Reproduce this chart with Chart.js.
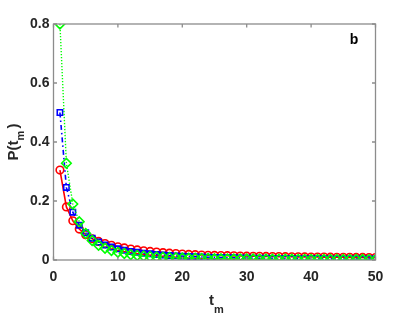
<!DOCTYPE html>
<html>
<head>
<meta charset="utf-8">
<script src="https://cdn.jsdelivr.net/npm/chart.js@4/dist/chart.umd.min.js"></script>
<style>
html,body{margin:0;padding:0;background:#fff;}
#wrap{width:415px;height:319px;}
</style>
</head>
<body>
<div id="wrap"><canvas id="c" width="415" height="319"></canvas></div>
<script>
const tValues = [1,2,3,4,5,6,7,8,9,10,11,12,13,14,15,16,17,18,19,20,21,22,23,24,25,26,27,28,29,30,31,32,33,34,35,36,37,38,39,40,41,42,43,44,45,46,47,48,49,50];
const redValues = [0.305,0.180,0.133,0.105,0.086,0.072,0.063,0.056,0.050,0.045,
0.041,0.037,0.034,0.031,0.029,0.027,0.025,0.023,0.022,0.020,
0.019,0.018,0.017,0.016,0.0155,0.015,0.0145,0.014,0.0135,0.013,
0.0127,0.0124,0.0121,0.0118,0.0115,0.0112,0.011,0.0107,0.0105,0.0102,
0.010,0.0098,0.0096,0.0094,0.0092,0.009,0.0088,0.0086,0.0085,0.0083];
const blueValues = [0.500,0.246,0.162,0.118,0.092,0.074,0.061,0.051,0.044,0.038,
0.033,0.029,0.026,0.023,0.021,0.019,0.017,0.0155,0.014,0.013,
0.012,0.011,0.0102,0.0095,0.0089,0.0083,0.0078,0.0074,0.007,0.0066,
0.0063,0.006,0.0057,0.0055,0.0052,0.005,0.0048,0.0046,0.0044,0.0043,
0.0041,0.004,0.0038,0.0037,0.0036,0.0035,0.0034,0.0033,0.0032,0.0031];
const greenValues = [0.800,0.328,0.190,0.130,0.090,0.066,0.050,0.040,0.032,0.026,
0.022,0.018,0.0155,0.0135,0.012,0.0105,0.0094,0.0085,0.0077,0.007,
0.0064,0.0059,0.0054,0.005,0.0046,0.0043,0.004,0.0038,0.0036,0.0034,
0.0032,0.003,0.0029,0.0027,0.0026,0.0025,0.0024,0.0023,0.0022,0.0021,
0.002,0.0019,0.0019,0.0018,0.0017,0.0017,0.0016,0.0016,0.0015,0.0015];
const xTicks = [0,10,20,30,40,50];
const yTicks = [0,0.2,0.4,0.6,0.8];
const xTitle = 't';
const xTitleSub = 'm';
const yTitle = 'P(t';
const yTitleSub = 'm';
const yTitleEnd = ')';
const panelLabel = 'b';

const FONT = '"Liberation Sans", Arial, Helvetica, sans-serif';
const AXIS = '#8c8c8c';
const PLOT = {left: 53.5, right: 375.5, top: 24, bottom: 260};

function pts(vals){ return tValues.map((t,i)=>({x:t,y:vals[i]})); }

const decor = {
  id: 'decor',
  afterDraw(chart){
    const ctx = chart.ctx;
    const xs = chart.scales.x, ys = chart.scales.y;
    const ca = chart.chartArea;
    ctx.save();
    ctx.strokeStyle = AXIS;
    ctx.lineWidth = 1.3;
    ctx.strokeRect(ca.left, ca.top, ca.right-ca.left, ca.bottom-ca.top);
    ctx.beginPath();
    xTicks.forEach(v=>{
      const px = xs.getPixelForValue(v);
      ctx.moveTo(px, ca.bottom); ctx.lineTo(px, ca.bottom-3.5);
      ctx.moveTo(px, ca.top); ctx.lineTo(px, ca.top+3.5);
    });
    yTicks.forEach(v=>{
      const py = ys.getPixelForValue(v);
      ctx.moveTo(ca.left, py); ctx.lineTo(ca.left+3.5, py);
      ctx.moveTo(ca.right, py); ctx.lineTo(ca.right-3.5, py);
    });
    ctx.stroke();
    ctx.fillStyle = '#262626';
    ctx.textBaseline = 'alphabetic';
    ctx.font = 'bold 15px ' + FONT;
    const cx = (ca.left+ca.right)/2;
    const wT = ctx.measureText(xTitle).width;
    ctx.font = 'bold 11px ' + FONT;
    const wS = ctx.measureText(xTitleSub).width;
    const startX = cx - (wT+wS)/2 + 2;
    ctx.font = 'bold 15px ' + FONT;
    ctx.textAlign = 'left';
    ctx.fillText(xTitle, startX, 305);
    ctx.font = 'bold 11px ' + FONT;
    ctx.fillText(xTitleSub, startX + wT, 313);
    ctx.save();
    const cy = (ca.top+ca.bottom)/2;
    ctx.translate(18, cy);
    ctx.rotate(-Math.PI/2);
    ctx.font = 'bold 15px ' + FONT;
    const w1 = ctx.measureText(yTitle).width;
    const w3 = ctx.measureText(yTitleEnd).width;
    ctx.font = 'bold 11px ' + FONT;
    const w2 = ctx.measureText(yTitleSub).width + 2;
    let sx = -(w1+w2+w3)/2;
    ctx.font = 'bold 15px ' + FONT;
    ctx.fillText(yTitle, sx, 0);
    ctx.font = 'bold 11px ' + FONT;
    ctx.fillText(yTitleSub, sx + w1, 6);
    ctx.font = 'bold 15px ' + FONT;
    ctx.fillText(yTitleEnd, sx + w1 + w2, 0);
    ctx.restore();
    ctx.font = 'bold 14px ' + FONT;
    ctx.fillStyle = '#000';
    ctx.textAlign = 'center';
    ctx.fillText(panelLabel, 354, 44);
    ctx.restore();
  }
};

new Chart(document.getElementById('c'), {
  type: 'line',
  data: {
    datasets: [
      {label:'red', data: pts(redValues), borderColor:'#ff0000', backgroundColor:'rgba(0,0,0,0)',
       pointStyle:'circle', pointRadius:3.8, pointBorderWidth:1.6, pointBorderColor:'#ff0000', pointBackgroundColor:'rgba(0,0,0,0)',
       borderWidth:1.6, order:2, tension:0},
      {label:'blue', data: pts(blueValues), borderColor:'#0000ff', backgroundColor:'rgba(0,0,0,0)',
       pointStyle:'rect', pointRadius:3.8, pointBorderWidth:1.6, pointBorderColor:'#0000ff', pointBackgroundColor:'rgba(0,0,0,0)',
       borderWidth:1.6, borderDash:[5,3,1.5,3], order:1, tension:0},
      {label:'green', data: pts(greenValues), borderColor:'#00ff00', backgroundColor:'rgba(0,0,0,0)',
       pointStyle:'rectRot', pointRadius:4.8, pointBorderWidth:1.6, pointBorderColor:'#00ff00', pointBackgroundColor:'rgba(0,0,0,0)',
       borderWidth:1.4, borderDash:[1.3,1.7], order:0, tension:0}
    ]
  },
  options: {
    responsive:false, animation:false, devicePixelRatio:1,
    layout:{padding:{left:0, right:415-PLOT.right, top:PLOT.top, bottom:0}},
    plugins:{legend:{display:false}, tooltip:{enabled:false}},
    scales:{
      x:{type:'linear', min:0, max:50,
        afterFit(s){ s.height = 319 - PLOT.bottom; },
        afterBuildTicks(s){ s.ticks = xTicks.map(v=>({value:v})); },
        grid:{display:false, drawTicks:false}, border:{display:false},
        ticks:{padding:9, color:'#262626', font:{family:FONT, size:14, weight:'bold'}, maxRotation:0}
      },
      y:{type:'linear', min:0, max:0.8,
        afterFit(s){ s.width = PLOT.left; },
        afterBuildTicks(s){ s.ticks = yTicks.map(v=>({value:v})); },
        grid:{display:false, drawTicks:false}, border:{display:false},
        ticks:{padding:4, color:'#262626', font:{family:FONT, size:14, weight:'bold'},
          callback:(v)=> (v===0 ? '0' : String(Math.round(v*10)/10))}
      }
    }
  },
  plugins:[decor]
});
</script>
</body>
</html>
